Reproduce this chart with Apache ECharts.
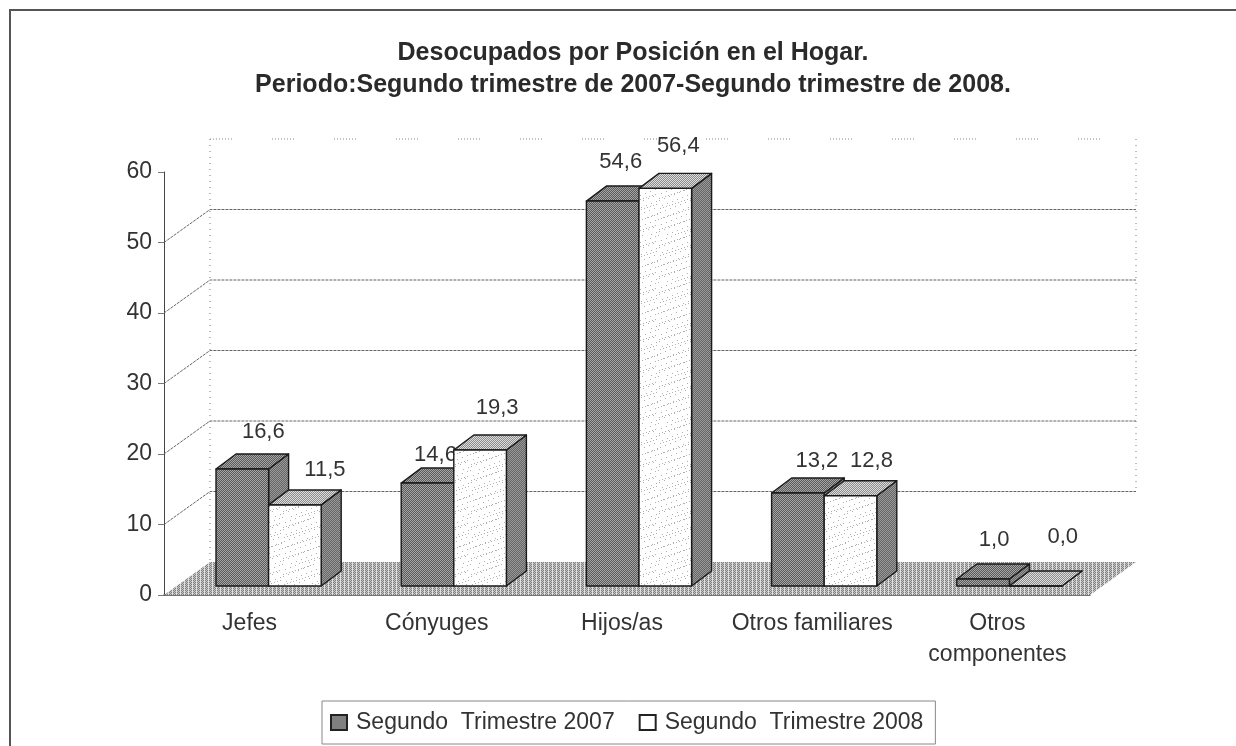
<!DOCTYPE html>
<html>
<head>
<meta charset="utf-8">
<style>html,body{margin:0;background:#fff}#main{width:1236px;height:746px}</style>
<script src="https://cdn.jsdelivr.net/npm/echarts@6/dist/echarts.min.js"></script>
</head>
<body>
<div id="main"></div>
<script>
var categorias = ['Jefes', 'Cónyuges', 'Hijos/as', 'Otros familiares', 'Otros\ncomponentes'];
var trimestre2007 = [16.6, 14.6, 54.6, 13.2, 1.0];
var trimestre2008 = [11.5, 19.3, 56.4, 12.8, 0.0];
var marcasY = [0, 10, 20, 30, 40, 50, 60];

// profundidad del "3D" de Excel: pared de fondo y barras
var fondoX = 46, fondoY = -33;
var barraFrenteX = 12, barraFrenteY = -9;
var barraProfX = 20, barraProfY = -15;
var anchoBarra = 0.284;
var fuente = '"Liberation Sans", Arial, sans-serif';

// tramas tipo escaneado
function trama(n, pintar) {
    var c = document.createElement('canvas');
    c.width = n; c.height = n;
    var g = c.getContext('2d');
    for (var y = 0; y < n; y++) {
        for (var x = 0; x < n; x++) {
            g.fillStyle = pintar(x, y);
            g.fillRect(x, y, 1, 1);
        }
    }
    return { image: c, repeat: 'repeat' };
}
var tramaOscura = trama(6, function (x, y) { return (x + y) % 2 ? '#5a5a5a' : '#a6a6a6'; });
var tramaLateral = trama(6, function (x, y) { return (x + y) % 2 ? '#666666' : '#999999'; });
var tramaTechoClaro = trama(4, function (x, y) { return (x + y) % 2 ? '#8c8c8c' : '#dddddd'; });
var tramaPiso = trama(8, function (x, y) {
    if (x % 4 === 0) return '#e0e0e0';
    return (x + y) % 2 ? '#808080' : '#c4c4c4';
});
var tramaBlanca = trama(47, function (x, y) {
    return (x * x * 3 + y * y * 7 + x * y) % 31 === 0 ? '#b0b0b0' : '#ffffff';
});

// mueve las etiquetas como estaban a mano en el original
var ajusteEtiqueta = {
    a: [[21, -37], [8, -28], [8, -39], [19, -32], [11, -39]],
    b: [[30, -35], [17, -42], [13, -42], [21, -35], [27, -49]]
};

function dibujaPared(params, api) {
    var caja = params.coordSys;
    var v = api.value(0);
    var p = api.coord([0, v]);
    var izq = caja.x, der = caja.x + caja.width;
    var hijos = [];
    var base = api.coord([0, 0])[1];
    if (v === 0) {
        hijos.push({
            type: 'polygon',
            shape: { points: [[izq, base], [der, base], [der + fondoX, base + fondoY], [izq + fondoX, base + fondoY]] },
            style: { fill: tramaPiso, stroke: null }
        });
        hijos.push({
            type: 'line',
            shape: { x1: izq + fondoX, y1: caja.y + fondoY, x2: izq + fondoX, y2: base + fondoY },
            style: { stroke: '#777', lineWidth: 1, lineDash: [1, 5] }
        });
        hijos.push({
            type: 'line',
            shape: { x1: der + fondoX, y1: caja.y + fondoY, x2: der + fondoX, y2: api.coord([0, 10])[1] + fondoY },
            style: { stroke: '#777', lineWidth: 1, lineDash: [1, 5] }
        });
    } else if (v === 60) {
        // la linea de arriba casi no se ve en el escaneado
        hijos.push({
            type: 'line',
            shape: { x1: izq + fondoX, y1: p[1] + fondoY, x2: der + fondoX, y2: p[1] + fondoY },
            style: { stroke: '#888', lineWidth: 1, lineDash: [1, 2, 1, 2, 1, 2, 1, 2, 1, 2, 1, 2, 1, 2, 1, 40] }
        });
    } else {
        hijos.push({
            type: 'polyline',
            shape: { points: [[izq, p[1]], [izq + fondoX, p[1] + fondoY], [der + fondoX, p[1] + fondoY]] },
            style: { fill: null, stroke: '#666', lineWidth: 1, lineDash: [3, 1] }
        });
    }
    return { type: 'group', children: hijos };
}

function dibujaBarras(lado, caraFrente, caraTecho, caraLado) {
    return function (params, api) {
        var i = api.value(0);
        var v = api.value(1);
        var punto = api.coord([i, v]);
        var cero = api.coord([i, 0]);
        var ancho = api.size([1, 0])[0] * anchoBarra;
        var x0 = punto[0] + barraFrenteX + (lado === 'a' ? -ancho : 0);
        var x1 = x0 + ancho;
        var yTop = punto[1] + barraFrenteY;
        var yBase = cero[1] + barraFrenteY;
        var dx = barraProfX, dy = barraProfY;
        var borde = { stroke: '#1a1a1a', lineWidth: 1.4, lineJoin: 'round' };
        var aj = ajusteEtiqueta[lado][i];
        return {
            type: 'group',
            children: [
                {
                    type: 'polygon',
                    shape: { points: [[x1, yTop], [x1 + dx, yTop + dy], [x1 + dx, yBase + dy], [x1, yBase]] },
                    style: Object.assign({ fill: caraLado }, borde)
                },
                {
                    type: 'polygon',
                    shape: { points: [[x0, yTop], [x0 + dx, yTop + dy], [x1 + dx, yTop + dy], [x1, yTop]] },
                    style: Object.assign({ fill: caraTecho }, borde)
                },
                {
                    type: 'rect',
                    shape: { x: x0, y: yTop, width: ancho, height: yBase - yTop },
                    style: Object.assign({ fill: caraFrente }, borde)
                },
                {
                    type: 'text',
                    style: {
                        text: v.toFixed(1).replace('.', ','),
                        x: (x0 + x1) / 2 + aj[0],
                        y: yTop + aj[1],
                        align: 'center',
                        verticalAlign: 'middle',
                        font: '22px ' + fuente,
                        fill: '#333'
                    }
                }
            ]
        };
    };
}

function filas(valores) {
    return valores.map(function (v, i) { return [i, v]; });
}

var myChart = echarts.init(document.getElementById('main'));
var option = {
    backgroundColor: '#fff',
    animation: false,
    title: {
        text: 'Desocupados por Posición en el Hogar.\nPeriodo:Segundo trimestre de 2007-Segundo trimestre de 2008.',
        left: 628,
        top: 32,
        textAlign: 'center',
        textStyle: { fontFamily: fuente, fontSize: 25, fontWeight: 'bold', color: '#2a2a2a', lineHeight: 32 }
    },
    grid: { left: 164, top: 172, width: 926, height: 423 },
    xAxis: {
        type: 'category',
        data: [
            { value: categorias[0], textStyle: { padding: [0, 14, 0, 0] } },
            { value: categorias[1], textStyle: { padding: [0, 10, 0, 0] } },
            { value: categorias[2], textStyle: { padding: [0, 10, 0, 0] } },
            { value: categorias[3] },
            { value: categorias[4] }
        ],
        axisLine: { lineStyle: { color: '#444', width: 1.5 } },
        axisTick: { length: 6, lineStyle: { color: '#555' } },
        axisLabel: { fontFamily: fuente, fontSize: 23, color: '#333', lineHeight: 31, margin: 13, interval: 0 },
        splitLine: { show: false }
    },
    yAxis: {
        type: 'value',
        min: 0,
        max: 60,
        interval: 10,
        axisLine: { show: true, lineStyle: { color: '#444', width: 1 } },
        axisTick: { show: true, length: 6, lineStyle: { color: '#777' } },
        axisLabel: { fontFamily: fuente, fontSize: 23, color: '#333', margin: 12 },
        splitLine: { show: false }
    },
    legend: {
        left: 322,
        top: 701,
        data: ['Segundo  Trimestre 2007', 'Segundo  Trimestre 2008'],
        padding: [10, 12, 10, 8],
        itemGap: 24,
        itemWidth: 16,
        itemHeight: 15,
        icon: 'rect',
        borderColor: '#888',
        borderWidth: 1,
        selectedMode: false,
        textStyle: { fontFamily: fuente, fontSize: 23, color: '#333', padding: [0, 0, 0, 4] }
    },
    graphic: [{
        type: 'polyline',
        silent: true,
        z: -10,
        shape: { points: [[10, 746], [10, 10], [1236, 10]] },
        style: { fill: null, stroke: '#555', lineWidth: 2 }
    }],
    tooltip: { show: false },
    series: [
        {
            name: 'pared',
            type: 'custom',
            silent: true,
            data: marcasY.map(function (v) { return [v]; }),
            encode: { y: 0 },
            renderItem: dibujaPared,
            z: 1
        },
        {
            name: 'Segundo  Trimestre 2007',
            type: 'custom',
            data: filas(trimestre2007),
            encode: { x: 0, y: 1 },
            itemStyle: { color: '#808080', borderColor: '#222', borderWidth: 1 },
            renderItem: dibujaBarras('a', tramaOscura, tramaOscura, tramaLateral),
            z: 3
        },
        {
            name: 'Segundo  Trimestre 2008',
            type: 'custom',
            data: filas(trimestre2008),
            encode: { x: 0, y: 1 },
            itemStyle: { color: '#ffffff', borderColor: '#222', borderWidth: 1 },
            renderItem: dibujaBarras('b', tramaBlanca, tramaTechoClaro, tramaLateral),
            z: 4
        }
    ]
};
myChart.setOption(option);
</script>
</body>
</html>
